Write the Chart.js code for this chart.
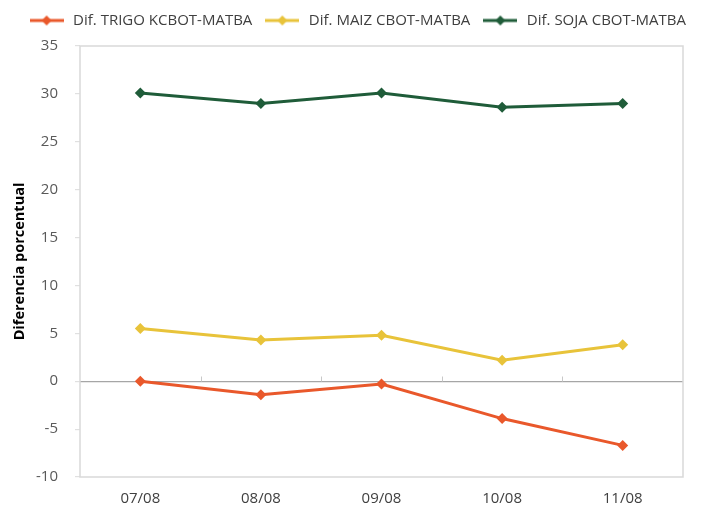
<!DOCTYPE html>
<html>
<head>
<meta charset="utf-8">
<script src="https://cdn.jsdelivr.net/npm/chart.js@4/dist/chart.umd.min.js"></script>
<style>
html,body{margin:0;padding:0;background:#fff;}
#wrap{width:712px;height:508px;position:relative;}
</style>
</head>
<body>
<div id="wrap"><canvas id="c" width="712" height="508"></canvas></div>
<script>
const categories = ['07/08','08/08','09/08','10/08','11/08'];
const trigo = [0.0, -1.4, -0.3, -3.9, -6.7];
const maiz = [5.5, 4.3, 4.8, 2.2, 3.8];
const soja = [30.1, 29.0, 30.1, 28.6, 29.0];
const seriesNames = ['Dif. TRIGO KCBOT-MATBA','Dif. MAIZ CBOT-MATBA','Dif. SOJA CBOT-MATBA'];
const colors = ['#E9582B','#E8C33A','#1F5C39'];
const yTitle = 'Diferencia porcentual';

const FONT = "'Open Sans',sans-serif";

function legendIcon(color){
  const cv = document.createElement('canvas');
  cv.width = 34; cv.height = 12;
  const g = cv.getContext('2d');
  g.strokeStyle = color; g.lineWidth = 3;
  g.beginPath(); g.moveTo(0,6); g.lineTo(34,6); g.stroke();
  g.fillStyle = color;
  g.beginPath(); g.moveTo(17,1); g.lineTo(22,6); g.lineTo(17,11); g.lineTo(12,6); g.closePath(); g.fill();
  return cv;
}

const legendGap = {
  id:'legendGap',
  beforeLayout(chart){
    const lg = chart.legend;
    if (lg && !lg._patched) {
      const orig = lg.fit;
      lg.fit = function(){ orig.call(this); this.height += 8; };
      lg._patched = true;
    }
  }
};

const frame = {
  id:'frame',
  afterDraw(chart){
    const {ctx, chartArea:a, scales} = chart;
    ctx.save();
    ctx.strokeStyle = '#d9d9d9'; ctx.lineWidth = 1.5;
    ctx.strokeRect(a.left, a.top, a.right-a.left, a.bottom-a.top);
    const x = scales.x, y = scales.y;
    const y0 = Math.round(y.getPixelForValue(0)) + 0.5;
    ctx.strokeStyle = '#c8c8c8'; ctx.lineWidth = 1;
    for (let i = 0; i < categories.length - 1; i++) {
      const px = Math.round((x.getPixelForValue(i) + x.getPixelForValue(i+1)) / 2) + 0.5;
      ctx.beginPath(); ctx.moveTo(px, y0); ctx.lineTo(px, y0 - 5); ctx.stroke();
    }
    ctx.restore();
  }
};

function ds(label, data, color){
  return {
    label, data,
    borderColor: color, backgroundColor: color,
    borderWidth: 3,
    pointStyle: 'rectRot', pointRadius: 5.5, pointHoverRadius: 5.5,
    pointBackgroundColor: color, pointBorderColor: color, pointBorderWidth: 0,
    tension: 0
  };
}

new Chart(document.getElementById('c'), {
  type: 'line',
  data: {
    labels: categories,
    datasets: [
      ds(seriesNames[0], trigo, colors[0]),
      ds(seriesNames[1], maiz, colors[1]),
      ds(seriesNames[2], soja, colors[2])
    ]
  },
  options: {
    responsive: false,
    animation: false,
    layout: { padding: { left: 0, right: 15, top: 2, bottom: 0 } },
    plugins: {
      tooltip: { enabled: false },
      legend: {
        position: 'top',
        align: 'end',
        labels: {
          usePointStyle: true,
          pointStyleWidth: 38,
          color: '#404040',
          font: { family: FONT, size: 15 },
          padding: 11,
          generateLabels(chart){
            return chart.data.datasets.map((d, i) => ({
              text: d.label, fillStyle: d.borderColor, strokeStyle: d.borderColor,
              pointStyle: legendIcon(d.borderColor), datasetIndex: i, hidden: false,
              fontColor: '#404040', lineWidth: 0
            }));
          }
        }
      }
    },
    scales: {
      x: {
        offset: true,
        grid: { display: false, drawTicks: false },
        border: { display: false },
        ticks: { color: '#404040', font: { family: FONT, size: 15 }, padding: 13 },
        afterFit(s){ s.height = 31; }
      },
      y: {
        min: -10, max: 35,
        ticks: { stepSize: 5, color: '#595959', font: { family: FONT, size: 15 }, padding: 17 },
        grid: {
          color: c => (c.tick && c.tick.value === 0) ? '#a6a6a6' : 'rgba(0,0,0,0)',
          lineWidth: 1.2,
          tickColor: '#e0e0e0', tickLength: 5
        },
        border: { display: false },
        title: { display: true, text: yTitle, color: '#000', font: { family: FONT, size: 14.5, weight: 'bold' }, padding: { top: 11, bottom: 0 } },
        afterFit(s){ s.width = 80; }
      },
      r: {
        position: 'right',
        display: true,
        grid: { display: false, drawTicks: false },
        border: { display: false },
        ticks: { display: false },
        afterFit(s){ s.width = 14; }
      }
    }
  },
  plugins: [legendGap, frame]
});
</script>
</body>
</html>
